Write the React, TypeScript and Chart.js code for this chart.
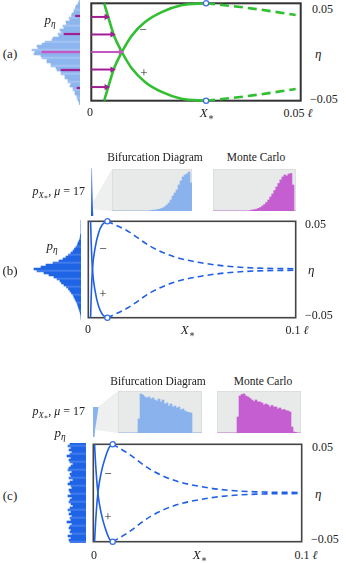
import React, { useEffect, useRef } from "react";
import { Chart, registerables } from "chart.js";
Chart.register(...registerables);

// ================= DATA =================
// (a) bifurcation diagram, x in units of ℓ, η dimensionless
const aStableX = [0.00307, 0.00425, 0.00542, 0.0073, 0.0097, 0.0129, 0.0168, 0.0215, 0.0274];
const aMinusEta = [0.05, 0.033, 0.017, 0, -0.017, -0.031, -0.041, -0.048, -0.05];
const aPlusEta = [-0.05, -0.033, -0.017, 0, 0.017, 0.031, 0.041, 0.048, 0.05];
const aUnstableX = [0.0274, 0.035, 0.042, 0.0488];
const aUnstableUpper = [0.05, 0.0465, 0.0425, 0.038];
const aUnstableLower = [-0.05, -0.0465, -0.0425, -0.038];
const aArrowEta = [0.036, 0.018, 0, -0.018, -0.036];
const aArrowTip = [0.0036, 0.005, 0.007, 0.005, 0.0036];
const aArrowDensity = [4.5, 16, 38, 19, 3];
const aHistEta = [0.052, 0.05, 0.048, 0.046, 0.044, 0.042, 0.04, 0.038, 0.036, 0.034, 0.032, 0.03, 0.028, 0.026, 0.024, 0.022, 0.02, 0.018, 0.016, 0.014, 0.012, 0.01, 0.008, 0.006, 0.004, 0.002, 0, -0.002, -0.004, -0.006, -0.008, -0.01, -0.012, -0.014, -0.016, -0.018, -0.02, -0.022, -0.024, -0.026, -0.028, -0.03, -0.032, -0.034, -0.036, -0.038, -0.04, -0.042, -0.044, -0.046, -0.048, -0.05, -0.052];
const aHistCounts = [0.5, 1.5, 2, 4, 4.5, 6, 6, 8, 8.5, 11, 10, 14, 13.5, 17, 16, 20, 18.5, 22, 21, 27, 28, 35, 38, 43, 42, 48, 45, 46, 39, 38, 33, 33, 29, 29, 24, 23, 19, 19, 15, 15, 12, 12, 9, 10, 7, 7, 5, 5, 3, 3, 2, 1, 0.5];

// (b)
const bStableX = [0.0011, 0.0014, 0.002, 0.0033, 0.0049, 0.0068, 0.0092];
const bMinusEta = [0.05, 0.028, 0, -0.0224, -0.0376, -0.0466, -0.05];
const bPlusEta = [-0.05, -0.028, 0, 0.0224, 0.0376, 0.0466, 0.05];
const bUnstableX = [0.0092, 0.0189, 0.03, 0.041, 0.0538, 0.0665, 0.0808, 0.1];
const bUnstableUpper = [0.05, 0.04, 0.024, 0.0135, 0.0072, 0.0035, 0.0015, 0.0008];
const bUnstableLower = [-0.05, -0.04, -0.024, -0.0135, -0.0072, -0.0035, -0.0015, -0.0008];
const etaBins50 = [0.049, 0.047, 0.045, 0.043, 0.041, 0.039, 0.037, 0.035, 0.033, 0.031, 0.029, 0.027, 0.025, 0.023, 0.021, 0.019, 0.017, 0.015, 0.013, 0.011, 0.009, 0.007, 0.005, 0.003, 0.001, -0.001, -0.003, -0.005, -0.007, -0.009, -0.011, -0.013, -0.015, -0.017, -0.019, -0.021, -0.023, -0.025, -0.027, -0.029, -0.031, -0.033, -0.035, -0.037, -0.039, -0.041, -0.043, -0.045, -0.047, -0.049];
const bHistCounts = [0, 0, 0, 0, 0, 0, 0, 0.5, 0.8, 1.2, 2, 3, 3.5, 5, 6.5, 8, 10, 12.5, 15, 18, 22, 28, 35, 40, 47, 44, 37, 32, 27, 24, 21, 19.5, 17, 14.5, 12.5, 11, 9.5, 8, 7, 6, 5, 4, 3.3, 2.6, 2, 1.4, 0.8, 0.3, 0, 0];
const bPxCounts = [0.6, 0.7, 0.7, 0.8, 0.8, 0.9, 0.9, 1, 1, 1.1, 1.1, 1.2, 1.2, 1.3, 1.3, 1.4, 1.4, 1.5, 1.5, 1.6, 1.6, 1.7, 1.8, 1.9];
const bBifCounts = [0, 0, 0, 0, 0, 0, 0, 0, 0, 0, 0, 0, 0, 0, 0, 0, 0, 0, 0, 0.5, 0.8, 1, 1.3, 1.7, 2.3, 3, 4.3, 6, 8, 11, 15, 18, 21, 26, 30, 34, 36, 37, 39, 28];
const bMcCounts = [0, 0, 0, 0, 0, 0, 0, 0, 0, 0, 0, 0, 0, 0, 0, 0, 0, 0, 0.5, 1, 1.3, 1.8, 2.6, 3.5, 5, 6.5, 8.5, 11, 14, 17, 20.5, 24, 27.5, 31, 34, 36, 35, 37, 37.5, 26, 0];

// (c)
const cStableX = [0.0006, 0.0011, 0.0022, 0.0038, 0.0057, 0.0077, 0.0093];
const cMinusEta = [0.05, 0.03, 0, -0.021, -0.036, -0.047, -0.05];
const cPlusEta = [-0.05, -0.03, 0, 0.021, 0.036, 0.047, 0.05];
const cUnstableX = [0.0093, 0.0164, 0.0275, 0.0384, 0.0512, 0.0638, 0.078, 0.1];
const cUnstableUpper = [0.05, 0.041, 0.024, 0.0133, 0.0067, 0.003, 0.0012, 0.0005];
const cUnstableLower = [-0.05, -0.041, -0.024, -0.0133, -0.0067, -0.003, -0.0012, -0.0005];
const cHistCounts = [16, 18, 15, 17, 14, 16, 19, 15, 17, 16, 13, 15, 17, 18, 14, 16, 15, 17, 13, 16, 18, 15, 14, 17, 16, 15, 18, 14, 16, 17, 15, 13, 16, 18, 15, 17, 14, 16, 15, 19, 14, 16, 17, 15, 16, 14, 18, 15, 17, 16];
const cPxCounts = [5, 4.7, 4.4, 4.1, 3.8, 3.5, 3.2, 2.9, 2.6, 2.3, 2, 1.8, 1.6, 1.4, 1.2];
const cBifCounts = [0, 0, 0, 0, 0, 0, 0, 0, 0, 0, 14, 39, 38, 36, 35, 36, 34, 35, 33, 32, 34, 31, 33, 29, 30, 27, 29, 26, 27, 25, 26, 23, 24, 22, 21, 20.5, 20, 0, 0, 0, 0, 0];
const cMcCounts = [0, 0, 0, 0, 0, 0, 0, 0, 0, 0, 16, 37, 38.5, 39, 37, 36, 34.5, 33, 31.5, 33, 31, 31, 30, 28, 29, 28, 26, 27.5, 26, 26, 24, 25, 23, 23.5, 22.5, 22, 21, 6, 1, 0.5, 0, 0];

// ================= STYLES =================
const GREEN = "#30bf30";
const BLUE = "#1f5fe3";
const CIRCLE = "#3a6fe8";
const MAGENTA = "#a01f92";
const MAGENTA_LIGHT = "#c458c2";
const FONT = '"Liberation Serif", "DejaVu Serif", serif';

const zip = (xs: number[], ys: number[]) => xs.map((x, i) => ({ x, y: ys[i] }));

const base: any = {
  animation: false,
  responsive: false,
  events: [],
  plugins: { legend: { display: false }, tooltip: { enabled: false } },
};

function framePlugin(color: string, width: number) {
  return {
    id: "frame",
    beforeDatasetsDraw(chart: any) {
      const { ctx, chartArea: a } = chart;
      ctx.save();
      ctx.strokeStyle = color;
      ctx.lineWidth = width;
      ctx.strokeRect(a.left, a.top, a.right - a.left, a.bottom - a.top);
      ctx.restore();
    },
  };
}

const panelBg = {
  id: "panelBg",
  beforeDatasetsDraw(chart: any) {
    const { ctx, chartArea: a } = chart;
    ctx.save();
    ctx.fillStyle = "#e8eaea";
    ctx.fillRect(a.left, a.top, a.right - a.left, a.bottom - a.top);
    ctx.strokeStyle = "#dcdfdf";
    ctx.lineWidth = 1;
    ctx.strokeRect(a.left + 0.5, a.top + 0.5, a.right - a.left - 1, a.bottom - a.top - 1);
    ctx.restore();
  },
};

function lineDs(data: any[], color: string, width: number, dash: number[] = []) {
  return {
    data,
    showLine: true,
    borderColor: color,
    borderWidth: width,
    borderDash: dash,
    pointRadius: 0,
    cubicInterpolationMode: "monotone",
    clip: false,
  };
}

function circleDs(pts: any[]) {
  return {
    data: pts,
    showLine: false,
    pointRadius: 2.6,
    pointBorderWidth: 1.3,
    pointBorderColor: CIRCLE,
    pointBackgroundColor: "#ffffff",
    clip: false,
  };
}

function mainConfig(xMax: number, datasets: any[], frameColor: string, frameWidth: number) {
  return {
    type: "scatter",
    data: { datasets },
    options: {
      ...base,
      layout: { padding: 4 },
      scales: {
        x: { type: "linear", min: 0, max: xMax, display: false },
        y: { type: "linear", min: -0.05, max: 0.05, display: false },
      },
    },
    plugins: [framePlugin(frameColor, frameWidth)],
  };
}

function hHistConfig(labels: number[], counts: number[], max: number, color: any, extra: any[] = []) {
  return {
    type: "bar",
    data: {
      labels,
      datasets: [
        ...extra,
        {
          data: counts,
          backgroundColor: color,
          barPercentage: 1,
          categoryPercentage: 1,
          grouped: false,
        },
      ],
    },
    options: {
      ...base,
      indexAxis: "y",
      scales: {
        x: { display: false, min: 0, max, reverse: true },
        y: { display: false },
      },
    },
  };
}

function pxHistConfig(counts: number[], max: number, color: any) {
  return {
    type: "bar",
    data: {
      labels: counts.map((_, i) => i),
      datasets: [{ data: counts, backgroundColor: color, barPercentage: 1, categoryPercentage: 1 }],
    },
    options: {
      ...base,
      indexAxis: "y",
      scales: { x: { display: false, min: 0, max }, y: { display: false } },
    },
  };
}

function insetConfig(counts: number[], color: string) {
  return {
    type: "bar",
    data: {
      labels: counts.map((_, i) => i),
      datasets: [{ data: counts, backgroundColor: color, barPercentage: 1, categoryPercentage: 1 }],
    },
    options: {
      ...base,
      scales: { x: { display: false }, y: { display: false, min: 0, max: 42 } },
    },
    plugins: [panelBg],
  };
}

function ChartCanvas({ left, top, width, height, make }: any) {
  const ref = useRef<HTMLCanvasElement>(null);
  useEffect(() => {
    const chart = new Chart(ref.current as any, make());
    return () => chart.destroy();
  }, []);
  return (
    <canvas
      ref={ref}
      width={width}
      height={height}
      style={{ position: "absolute", left, top, width, height }}
    />
  );
}

function T({ x, y, a = "c", s = 12, it = false, children }: any) {
  const tr = a === "c" ? "translate(-50%,-50%)" : a === "l" ? "translate(0,-50%)" : "translate(-100%,-50%)";
  return (
    <div
      style={{
        position: "absolute",
        left: x,
        top: y,
        transform: tr,
        fontSize: s,
        lineHeight: 1,
        whiteSpace: "nowrap",
        fontStyle: it ? "italic" : "normal",
      }}
    >
      {children}
    </div>
  );
}

const Sub = ({ children }: any) => (
  <span style={{ fontSize: "0.72em", position: "relative", top: "0.3em" }}>{children}</span>
);
const I = ({ children }: any) => <span style={{ fontStyle: "italic" }}>{children}</span>;
const Xs = () => (
  <span>
    <I>X</I>
    <Sub>∗</Sub>
  </span>
);
const PEta = () => (
  <span>
    <I>p</I>
    <Sub>
      <I>η</I>
    </Sub>
  </span>
);
const PX = () => (
  <span>
    <I>p</I>
    <Sub>
      <I>X</I>
      <span style={{ fontSize: "0.75em", position: "relative", top: "0.25em" }}>∗</span>
    </Sub>
    , <I>μ</I> = 17
  </span>
);

function Wedge({ left, top, width, height, poly }: any) {
  return (
    <div
      style={{
        position: "absolute",
        left,
        top,
        width,
        height,
        background: "#eef0f0",
        clipPath: `polygon(${poly})`,
      }}
    />
  );
}

// ---------- panel configs ----------
const makeA = () => {
  const arrows = aArrowEta.map((e, i) => {
    const col = i === 2 ? MAGENTA_LIGHT : MAGENTA;
    return {
      data: [
        { x: 0, y: e },
        { x: aArrowTip[i], y: e },
      ],
      showLine: true,
      borderColor: col,
      borderWidth: 2,
      pointRadius: [0, 3.6],
      pointStyle: "triangle",
      pointRotation: 90,
      pointBackgroundColor: col,
      pointBorderColor: col,
      pointBorderWidth: 0,
      clip: false,
    };
  });
  return mainConfig(
    0.05,
    [
      circleDs([
        { x: aUnstableX[0], y: aUnstableUpper[0] },
        { x: aUnstableX[0], y: aUnstableLower[0] },
      ]),
      ...arrows,
      lineDs(zip(aStableX, aMinusEta), GREEN, 2.6),
      lineDs(zip(aStableX, aPlusEta), GREEN, 2.6),
      lineDs(zip(aUnstableX, aUnstableUpper), GREEN, 2.6, [9, 5]),
      lineDs(zip(aUnstableX, aUnstableLower), GREEN, 2.6, [9, 5]),
    ],
    "#333333",
    2
  );
};

const makeAHist = () => {
  const markers = aHistEta.map((e) => {
    const k = aArrowEta.findIndex((a) => a === e);
    return k >= 0 ? aArrowDensity[k] : null;
  });
  return hHistConfig(
    aHistEta,
    aHistCounts,
    60,
    (ctx: any) => (ctx.dataIndex % 4 === 1 ? "#a3c3f2" : "#8db5ee"),
    [
      {
        data: markers,
        backgroundColor: (ctx: any) => (ctx.dataIndex === 26 ? MAGENTA_LIGHT : MAGENTA),
        barThickness: 1.6,
        grouped: false,
      },
    ]
  );
};

const makeBC = (sx: number[], minus: number[], plus: number[], ux: number[], up: number[], lo: number[]) => () =>
  mainConfig(
    0.1,
    [
      circleDs([
        { x: ux[0], y: up[0] },
        { x: ux[0], y: lo[0] },
      ]),
      lineDs(zip(sx, minus), BLUE, 1.6),
      lineDs(zip(sx, plus), BLUE, 1.6),
      lineDs(zip(ux, up), BLUE, 1.6, [6, 4]),
      lineDs(zip(ux, lo), BLUE, 1.6, [6, 4]),
    ],
    "#444444",
    1.6
  );

const strongHist = (ctx: any) => (ctx.dataIndex % 4 === 1 ? "#3f7bea" : "#2064e6");

export default function App() {
  return (
    <div
      style={{
        position: "absolute",
        left: 0,
        top: 0,
        width: 346,
        height: 563,
        overflow: "hidden",
        background: "#ffffff",
        fontFamily: FONT,
        color: "#222",
      }}
    >
      {/* ---------- (a) ---------- */}
      <ChartCanvas left={20} top={-1} width={60} height={106} make={makeAHist} />
      <ChartCanvas left={86} top={-2} width={220} height={108} make={makeA} />
      <T x={10} y={53} s={13}>(a)</T>
      <T x={50} y={20} s={13}><PEta /></T>
      <T x={143} y={29} s={13}>−</T>
      <T x={144} y={72} s={13}>+</T>
      <T x={90} y={112}>0</T>
      <T x={207} y={113} s={13}><Xs /></T>
      <T x={298} y={113}>0.05 <I>ℓ</I></T>
      <T x={312} y={9} a="l">0.05</T>
      <T x={315} y={53} a="l" s={13} it>η</T>
      <T x={310} y={99} a="l">−0.05</T>

      {/* ---------- (b) ---------- */}
      <T x={155} y={158} s={11.5}>Bifurcation Diagram</T>
      <T x={256} y={158} s={11.5}>Monte Carlo</T>
      <T x={85} y={191} a="r" s={12}><PX /></T>
      <Wedge left={93} top={169} width={19} height={43} poly="0px 32.7px, 19px 0px, 19px 42px, 0px 40.3px" />
      <ChartCanvas left={91} top={168} width={4} height={48}
        make={() => pxHistConfig(bPxCounts, 4, (ctx: any) => `rgba(31,95,224,${0.35 + 0.65 * ctx.dataIndex / 23})`)} />
      <ChartCanvas left={112} top={169} width={80} height={42} make={() => insetConfig(bBifCounts, "#8ab2ec")} />
      <ChartCanvas left={213} top={169} width={83} height={42} make={() => insetConfig(bMcCounts, "#c55ed0")} />
      <ChartCanvas left={21} top={220} width={60} height={100}
        make={() => hHistConfig(etaBins50, bHistCounts, 60, strongHist)} />
      <ChartCanvas left={83} top={216} width={218} height={107}
        make={makeBC(bStableX, bMinusEta, bPlusEta, bUnstableX, bUnstableUpper, bUnstableLower)} />
      <T x={52} y={246} s={13}><PEta /></T>
      <T x={10} y={270} s={13}>(b)</T>
      <T x={103} y={248} s={13}>−</T>
      <T x={103} y={293} s={13}>+</T>
      <T x={88} y={329}>0</T>
      <T x={188} y={330} s={13}><Xs /></T>
      <T x={297} y={330}>0.1 <I>ℓ</I></T>
      <T x={305} y={224} a="l">0.05</T>
      <T x={308} y={269} a="l" s={13} it>η</T>
      <T x={305} y={315} a="l">−0.05</T>

      {/* ---------- (c) ---------- */}
      <T x={158} y={382} s={11.5}>Bifurcation Diagram</T>
      <T x={263} y={382} s={11.5}>Monte Carlo</T>
      <T x={85} y={411} a="r" s={12}><PX /></T>
      <Wedge left={96} top={391} width={23} height={42} poly="0px 17.3px, 22px 0px, 22px 42px, 0px 39px" />
      <ChartCanvas left={93} top={407} width={6} height={30} make={() => pxHistConfig(cPxCounts, 6, "#8ab3ec")} />
      <ChartCanvas left={118} top={391} width={84} height={42} make={() => insetConfig(cBifCounts, "#8ab2ec")} />
      <ChartCanvas left={217} top={391} width={84} height={42} make={() => insetConfig(cMcCounts, "#c55ed0")} />
      <ChartCanvas left={56} top={443} width={30} height={100}
        make={() => hHistConfig(etaBins50, cHistCounts, 30, strongHist)} />
      <ChartCanvas left={88} top={439} width={219} height={108}
        make={makeBC(cStableX, cMinusEta, cPlusEta, cUnstableX, cUnstableUpper, cUnstableLower)} />
      <T x={60} y={433} s={13}><PEta /></T>
      <T x={10} y={495} s={13}>(c)</T>
      <T x={108} y={473} s={13}>−</T>
      <T x={108} y={516} s={13}>+</T>
      <T x={94} y={555}>0</T>
      <T x={200} y={555} s={13}><Xs /></T>
      <T x={306} y={555}>0.1 <I>ℓ</I></T>
      <T x={312} y={447} a="l">0.05</T>
      <T x={315} y={493} a="l" s={13} it>η</T>
      <T x={311} y={539} a="l">−0.05</T>
    </div>
  );
}
